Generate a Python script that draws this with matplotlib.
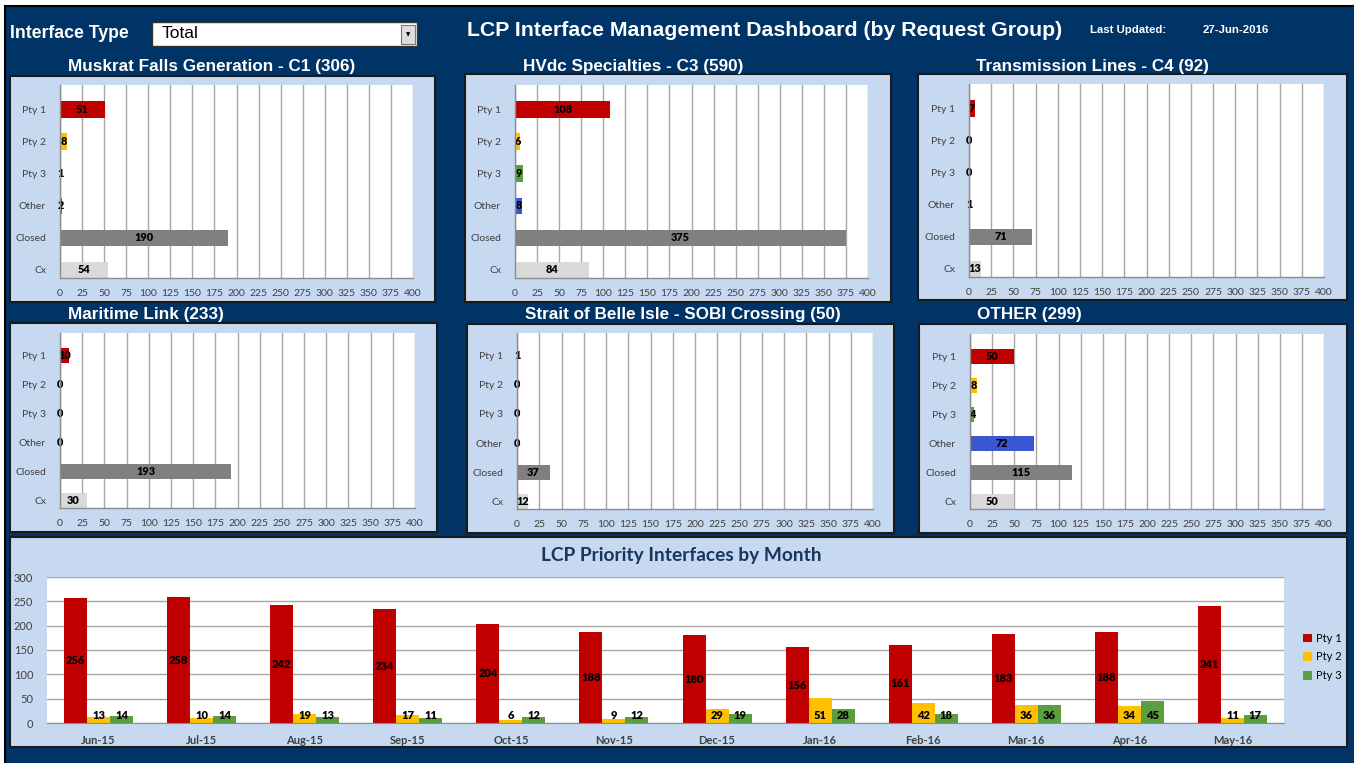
import matplotlib
matplotlib.use('Agg')
import matplotlib.pyplot as plt
from matplotlib.patches import Rectangle
import numpy as np

# data
categories = ['Pty 1', 'Pty 2', 'Pty 3', 'Other', 'Closed', 'Cx']
muskrat = [51, 8, 1, 2, 190, 54]
hvdc = [108, 6, 9, 8, 375, 84]
transmission = [7, 0, 0, 1, 71, 13]
maritime = [10, 0, 0, 0, 193, 30]
sobi = [1, 0, 0, 0, 37, 12]
other = [50, 8, 4, 72, 115, 50]
panel_names = ['Muskrat Falls Generation - C1', 'HVdc Specialties - C3', 'Transmission Lines - C4',
               'Maritime Link', 'Strait of Belle Isle - SOBI Crossing', 'OTHER']
x_ticks = list(range(0, 401, 25))

months = ['Jun-15', 'Jul-15', 'Aug-15', 'Sep-15', 'Oct-15', 'Nov-15',
          'Dec-15', 'Jan-16', 'Feb-16', 'Mar-16', 'Apr-16', 'May-16']
pty1 = [256, 258, 242, 234, 204, 188, 180, 156, 161, 183, 188, 241]
pty2 = [13, 10, 19, 17, 6, 9, 29, 51, 42, 36, 34, 11]
pty3 = [14, 14, 13, 11, 12, 12, 19, 28, 18, 36, 45, 17]
y_ticks = list(range(0, 301, 50))

NAVY = '#003366'
PANEL = '#C6D9F0'
bar_colors = ['#C00000', '#FFC000', '#5B9E3F', '#3A56D0', '#808080', '#D9D9D9']
CHART_FONT = ['Lato', 'DejaVu Sans']
HEAD_FONT = ['Liberation Sans', 'DejaVu Sans']

W, H = 1354, 763
fig = plt.figure(figsize=(W / 100, H / 100), dpi=100)
fig.patch.set_facecolor('white')


def box(x0, y0, x1, y1):
    return [x0 / W, 1 - y1 / H, (x1 - x0) / W, (y1 - y0) / H]


def rect(x0, y0, x1, y1, **kw):
    fig.add_artist(Rectangle((x0 / W, 1 - y1 / H), (x1 - x0) / W, (y1 - y0) / H,
                             transform=fig.transFigure, zorder=-10, **kw))


def ftext(x, y, s, **kw):
    fig.text(x / W, 1 - y / H, s, **kw)


# background and header
rect(5, 6, W + 2, H + 2, fc=NAVY, ec='black', lw=1.5)
ftext(10, 33, 'Interface Type', color='white', fontsize=12.7, fontweight='bold',
      family=HEAD_FONT, va='center')
rect(152, 22, 417, 46, fc='white', ec='#333333', lw=1)
rect(401, 25, 415, 44, fc='#DDDDDD', ec='#777777', lw=0.8)
ftext(408, 35, '▼', fontsize=4, ha='center', va='center', color='black')
ftext(162, 33, 'Total', fontsize=12.5, family=HEAD_FONT, va='center', color='black')
ftext(467, 31, 'LCP Interface Management Dashboard (by Request Group)', color='white',
      fontsize=15.3, fontweight='bold', family=HEAD_FONT, va='center')
ftext(1090, 30, 'Last Updated:', color='white', fontsize=8.2, fontweight='bold',
      family=HEAD_FONT, va='center')
ftext(1203, 30, '27-Jun-2016', color='white', fontsize=8.2, fontweight='bold',
      family=HEAD_FONT, va='center')

# small panels: (panel box), (plot box), title y
panels = [
    ((10, 76, 435, 302), (60, 85, 413, 278), 66),
    ((465, 74, 891, 302), (515, 85, 868, 278), 66),
    ((918, 74, 1347, 300), (969, 84, 1324, 277), 66),
    ((10, 323, 437, 532), (60, 333, 415, 508), 315),
    ((467, 324, 894, 533), (517, 333, 873, 509), 315),
    ((919, 324, 1347, 533), (970, 334, 1324, 509), 315),
]
panel_data = [muskrat, hvdc, transmission, maritime, sobi, other]

for (pb, ab, ty), name, vals in zip(panels, panel_names, panel_data):
    rect(*pb, fc=PANEL, ec='#1A1A1A', lw=1.5)
    ftext(pb[0] + 58, ty, '%s (%d)' % (name, sum(vals)), color='white', fontsize=12.3,
          fontweight='bold', family=HEAD_FONT, va='center')
    ax = fig.add_axes(box(*ab))
    ax.set_facecolor('white')
    ypos = np.arange(len(categories))[::-1]
    ax.barh(ypos, vals, height=0.52, color=bar_colors, zorder=3)
    for y, v in zip(ypos, vals):
        ax.text(v / 2, y, str(v), ha='center', va='center', fontsize=7.8,
                fontweight='heavy', family=CHART_FONT, color='black', zorder=4)
    ax.set_xlim(0, 400)
    ax.set_ylim(-0.25, 5.77)
    ax.set_xticks(x_ticks)
    ax.set_xticklabels([str(t) for t in x_ticks], fontsize=7.5, family=CHART_FONT, color='#404040')
    ax.set_yticks(ypos)
    ax.set_yticklabels(categories, fontsize=7.5, family=CHART_FONT, color='#404040')
    ax.tick_params(length=0)
    ax.tick_params(axis='x', pad=8)
    ax.tick_params(axis='y', pad=10)
    ax.grid(axis='x', color='#A6A6A6', lw=1, zorder=1)
    for s in ['top', 'right']:
        ax.spines[s].set_visible(False)
    for s in ['left', 'bottom']:
        ax.spines[s].set_color('#8C8C8C')
        ax.spines[s].set_linewidth(1)
        ax.spines[s].set_zorder(5)

# bottom panel
rect(10, 537, 1347, 747, fc=PANEL, ec='#1A1A1A', lw=1.5)
ftext(681, 555, 'LCP Priority Interfaces by Month', color='#17375E', fontsize=13.8,
      fontweight='bold', family=CHART_FONT, ha='center', va='center')

ax = fig.add_axes(box(47, 577, 1284, 723))
ax.set_facecolor('white')
x = np.arange(len(months))
bw = 0.223
b1 = ax.bar(x - bw, pty1, width=bw, color=bar_colors[0], label='Pty 1', zorder=3)
b2 = ax.bar(x, pty2, width=bw, color=bar_colors[1], label='Pty 2', zorder=3)
b3 = ax.bar(x + bw, pty3, width=bw, color=bar_colors[2], label='Pty 3', zorder=3)
for i in range(len(months)):
    ax.text(x[i] - bw, pty1[i] / 2, str(pty1[i]), ha='center', va='center', fontsize=8,
            fontweight='heavy', family=CHART_FONT, zorder=4)
    ax.text(x[i], 16, str(pty2[i]), ha='center', va='center', fontsize=8,
            fontweight='heavy', family=CHART_FONT, zorder=4)
    ax.text(x[i] + bw, 16, str(pty3[i]), ha='center', va='center', fontsize=8,
            fontweight='heavy', family=CHART_FONT, zorder=4)
ax.set_xlim(-0.5, len(months) - 0.5)
ax.set_ylim(0, 300)
ax.set_yticks(y_ticks)
ax.set_yticklabels([str(t) for t in y_ticks], fontsize=8, family=CHART_FONT, color='#404040')
ax.set_xticks(x)
ax.set_xticklabels(months, fontsize=8, family=CHART_FONT, color='#404040', fontweight='bold')
ax.tick_params(length=0)
ax.tick_params(axis='x', pad=9)
ax.tick_params(axis='y', pad=10)
ax.grid(axis='y', color='#A6A6A6', lw=1, zorder=1)
for s in ['top', 'right', 'left']:
    ax.spines[s].set_visible(False)
ax.spines['bottom'].set_color('#8C8C8C')
ax.spines['bottom'].set_zorder(5)

fig.legend(handles=[b1, b2, b3], labels=['Pty 1', 'Pty 2', 'Pty 3'],
           loc='center left', bbox_to_anchor=(1293 / W, 1 - 657 / H), frameon=False,
           handlelength=0.8, handleheight=0.8, handletextpad=0.4, labelspacing=0.7,
           prop={'family': CHART_FONT, 'size': 8})

fig.savefig('out.png', dpi=100)
